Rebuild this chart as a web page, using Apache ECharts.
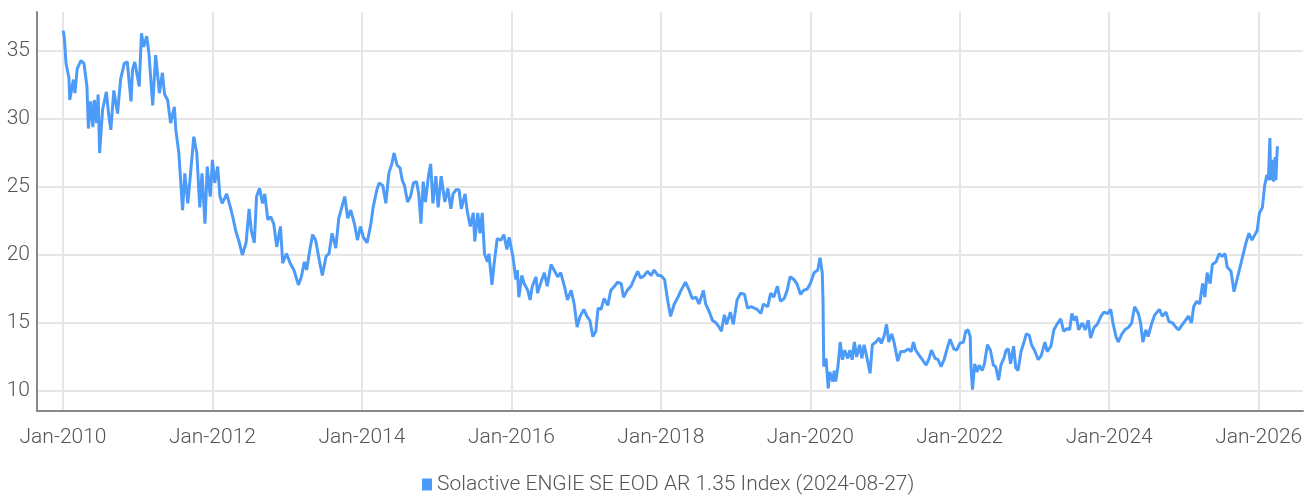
<!DOCTYPE html>
<html>
<head>
<meta charset="utf-8">
<script src="https://cdn.jsdelivr.net/npm/echarts@6/dist/echarts.min.js"></script>
<style>
html,body{margin:0;padding:0;background:#fff;}
#chart{width:1313px;height:495px;}
</style>
</head>
<body>
<div id="chart"></div>
<script>
// Dates as decimal years (e.g. 2010.50 = early July 2010)
const years = [
2010.00,2010.01,2010.02,2010.04,2010.08,2010.09,2010.14,2010.16,2010.19,2010.24,2010.28,2010.32,2010.34,2010.37,2010.40,2010.42,2010.45,2010.47,2010.49,2010.53,
2010.55,2010.58,2010.61,2010.64,2010.68,2010.73,2010.77,2010.82,2010.86,2010.91,2010.93,2010.96,2011.02,2011.05,2011.08,2011.12,2011.15,2011.20,2011.24,2011.29,
2011.33,2011.36,2011.40,2011.44,2011.49,2011.51,2011.55,2011.60,2011.63,2011.67,2011.71,2011.75,2011.79,2011.83,2011.86,2011.90,2011.93,2011.97,2012.00,2012.03,
2012.07,2012.10,2012.13,2012.19,2012.24,2012.28,2012.31,2012.36,2012.40,2012.45,2012.49,2012.52,2012.56,2012.59,2012.63,2012.67,2012.70,2012.74,2012.78,2012.82,
2012.86,2012.91,2012.94,2012.99,2013.04,2013.09,2013.15,2013.19,2013.23,2013.26,2013.31,2013.34,2013.38,2013.43,2013.47,2013.52,2013.56,2013.60,2013.65,2013.69,
2013.73,2013.77,2013.81,2013.85,2013.90,2013.94,2013.98,2014.02,2014.07,2014.12,2014.15,2014.20,2014.23,2014.28,2014.32,2014.36,2014.40,2014.43,2014.47,2014.51,
2014.54,2014.57,2014.61,2014.65,2014.69,2014.73,2014.76,2014.79,2014.82,2014.85,2014.89,2014.92,2014.95,2014.99,2015.02,2015.06,2015.11,2015.15,2015.19,2015.22,
2015.26,2015.30,2015.33,2015.38,2015.41,2015.45,2015.49,2015.51,2015.55,2015.58,2015.61,2015.64,2015.68,2015.70,2015.74,2015.77,2015.81,2015.86,2015.90,2015.94,
2015.97,2016.02,2016.06,2016.08,2016.10,2016.14,2016.17,2016.22,2016.25,2016.28,2016.33,2016.35,2016.39,2016.44,2016.48,2016.53,2016.57,2016.62,2016.66,2016.71,
2016.75,2016.80,2016.84,2016.88,2016.92,2016.97,2017.01,2017.05,2017.09,2017.13,2017.16,2017.20,2017.24,2017.29,2017.33,2017.38,2017.42,2017.47,2017.50,2017.55,
2017.60,2017.64,2017.69,2017.73,2017.78,2017.82,2017.87,2017.91,2017.96,2018.00,2018.05,2018.09,2018.13,2018.18,2018.22,2018.27,2018.33,2018.38,2018.42,2018.47,
2018.51,2018.57,2018.60,2018.65,2018.69,2018.74,2018.78,2018.81,2018.85,2018.88,2018.93,2018.97,2019.02,2019.07,2019.12,2019.16,2019.21,2019.25,2019.29,2019.34,
2019.37,2019.43,2019.47,2019.51,2019.56,2019.60,2019.65,2019.69,2019.73,2019.78,2019.82,2019.87,2019.91,2019.96,2020.00,2020.05,2020.10,2020.13,2020.16,2020.17,
2020.18,2020.21,2020.24,2020.26,2020.30,2020.32,2020.34,2020.37,2020.40,2020.43,2020.46,2020.50,2020.53,2020.56,2020.59,2020.62,2020.66,2020.69,2020.72,2020.76,
2020.80,2020.83,2020.88,2020.92,2020.95,2020.99,2021.02,2021.05,2021.09,2021.12,2021.17,2021.21,2021.26,2021.31,2021.35,2021.38,2021.41,2021.46,2021.50,2021.55,
2021.59,2021.62,2021.67,2021.71,2021.75,2021.79,2021.84,2021.87,2021.92,2021.96,2022.00,2022.05,2022.08,2022.11,2022.14,2022.15,2022.17,2022.20,2022.23,2022.26,
2022.30,2022.33,2022.37,2022.41,2022.45,2022.48,2022.52,2022.55,2022.59,2022.62,2022.65,2022.68,2022.72,2022.75,2022.78,2022.82,2022.86,2022.89,2022.93,2022.96,
2023.00,2023.05,2023.09,2023.14,2023.17,2023.22,2023.26,2023.30,2023.35,2023.39,2023.44,2023.47,2023.50,2023.53,2023.56,2023.59,2023.64,2023.68,2023.72,2023.75,
2023.80,2023.84,2023.89,2023.93,2023.98,2024.02,2024.05,2024.09,2024.12,2024.17,2024.21,2024.26,2024.30,2024.34,2024.39,2024.42,2024.45,2024.49,2024.52,2024.57,
2024.61,2024.67,2024.71,2024.76,2024.80,2024.85,2024.89,2024.93,2024.98,2025.02,2025.06,2025.10,2025.13,2025.17,2025.21,2025.25,2025.28,2025.31,2025.35,2025.38,
2025.43,2025.47,2025.51,2025.55,2025.58,2025.63,2025.67,2025.83,2025.87,2025.91,2025.95,2025.98,2026.01,2026.05,2026.08,2026.11,2026.13,2026.15,2026.16,2026.18,
2026.20,2026.22,2026.23,2026.25
];

const indexValues = [
36.5,36.3,35.8,34.1,33.0,31.4,32.9,31.9,33.7,34.3,34.1,32.4,29.3,31.3,29.4,31.4,29.7,31.8,27.5,30.7,
30.8,32.0,30.4,29.2,32.1,30.4,32.9,34.1,34.2,31.3,33.6,34.2,32.4,36.3,35.3,36.1,34.8,31.0,34.7,31.9,
33.4,31.8,31.4,29.7,30.9,29.2,27.5,23.3,26.0,23.8,26.2,28.7,27.5,23.5,26.0,22.3,26.5,24.3,27.0,25.3,
26.5,24.3,23.8,24.5,23.5,22.6,21.8,20.9,20.0,20.9,23.4,21.8,20.9,24.3,24.9,23.8,24.5,22.6,22.8,22.3,
20.6,22.1,19.4,20.1,19.4,18.9,17.8,18.4,19.5,18.9,20.6,21.5,21.1,19.6,18.5,19.9,20.1,21.6,20.5,22.7,
23.5,24.3,22.7,23.3,22.3,21.1,22.1,21.3,20.9,22.3,23.5,24.8,25.3,25.1,23.8,26.0,26.7,27.5,26.6,26.4,
25.5,25.1,23.9,24.3,25.3,25.4,24.5,22.3,25.4,23.9,25.8,26.7,23.8,25.8,23.5,25.8,23.9,24.9,23.4,24.5,
24.8,24.8,23.4,24.5,23.2,22.1,23.1,21.0,23.1,21.6,23.1,20.1,19.5,20.1,17.8,19.4,21.2,21.1,21.5,20.4,
21.3,19.9,18.2,18.9,16.9,18.5,17.9,17.4,16.7,17.7,18.4,17.2,17.9,18.7,17.7,19.3,18.9,18.4,18.7,17.7,
16.7,17.4,16.4,14.7,15.5,16.0,15.5,15.2,14.0,14.4,16.1,16.0,16.8,16.3,17.4,17.7,18.0,17.9,16.9,17.4,
17.7,18.2,18.8,18.3,18.5,18.8,18.5,18.9,18.5,18.5,18.2,16.7,15.5,16.4,16.8,17.4,18.0,17.4,16.8,16.9,
16.4,17.4,16.4,15.8,15.2,15.0,14.7,14.4,15.6,14.9,15.8,14.9,16.7,17.2,17.1,16.1,16.2,16.1,16.0,15.7,
16.4,16.2,17.2,16.9,17.7,16.6,16.8,17.4,18.4,18.2,17.9,17.1,17.4,17.5,17.9,18.7,18.9,19.8,18.7,16.7,
11.8,12.4,10.2,11.4,10.7,11.5,10.7,11.8,13.6,12.3,13.0,12.4,13.0,12.3,13.6,12.5,13.4,12.4,13.4,12.4,
11.3,13.4,13.6,13.9,13.5,14.1,14.9,13.6,14.2,13.6,12.2,12.9,12.9,13.1,12.9,13.6,13.0,12.6,12.3,11.9,
12.4,13.0,12.4,12.3,11.8,12.3,13.3,13.8,13.1,13.0,13.5,13.6,14.4,14.5,14.0,11.8,10.1,12.0,11.4,11.9,
11.5,12.0,13.4,13.0,11.9,11.8,10.8,11.9,12.4,13.0,13.1,12.0,13.3,11.7,11.5,12.9,13.6,14.2,14.1,13.4,
13.0,12.3,12.6,13.6,12.9,13.3,14.5,14.9,15.3,14.4,14.6,14.5,15.7,15.2,15.5,14.5,15.0,14.5,15.2,13.9,
14.7,14.9,15.5,15.8,15.7,16.0,15.0,14.0,13.6,14.2,14.5,14.7,15.0,16.2,15.7,15.0,13.6,14.5,14.0,15.0,
15.6,16.0,15.5,15.8,15.1,15.0,14.7,14.5,14.9,15.2,15.5,15.0,16.2,16.6,16.4,17.9,16.9,18.7,17.9,19.3,
19.5,20.1,19.9,20.1,19.1,18.8,17.3,20.9,21.6,21.1,21.5,21.8,23.1,23.5,25.1,25.9,25.5,28.6,25.5,27.0,
25.4,27.2,25.5,28.0
];

const seriesName = 'Solactive ENGIE SE EOD AR 1.35 Index (2024-08-27)';
const xTickYears = [2010, 2012, 2014, 2016, 2018, 2020, 2022, 2024, 2026];
const yTickValues = [10, 15, 20, 25, 30, 35];

const seriesData = years.map((y, i) => [y, indexValues[i]]);

const FONT = "Roboto, 'Liberation Sans Narrow', sans-serif";
const chart = echarts.init(document.getElementById('chart'), null, {renderer: 'canvas'});
chart.setOption({
  animation: false,
  backgroundColor: '#ffffff',
  grid: {left: 37, right: 10, top: 12, bottom: 84, containLabel: false},
  legend: {
    show: true,
    left: 417,
    top: 469,
    icon: 'rect',
    itemWidth: 10,
    itemHeight: 12,
    itemGap: 10,
    textStyle: {color: '#555', fontSize: 21, fontWeight: 300, fontFamily: FONT},
    data: [seriesName]
  },
  xAxis: {
    type: 'value',
    min: 2009.652,
    max: 2026.593,
    axisLine: {show: true, lineStyle: {color: '#888', width: 2}},
    axisTick: {show: false, customValues: xTickYears},
    splitLine: {show: true, lineStyle: {color: '#e6e6e6', width: 2}},
    axisLabel: {
      customValues: xTickYears,
      color: '#555',
      fontSize: 21,
      fontWeight: 300,
      fontFamily: FONT,
      margin: 16,
      hideOverlap: false,
      formatter: function (v) { return 'Jan-' + Math.round(v); }
    }
  },
  yAxis: {
    type: 'value',
    min: 8.53,
    max: 37.87,
    axisLine: {show: true, lineStyle: {color: '#888', width: 2}},
    axisTick: {show: false, customValues: yTickValues},
    splitLine: {show: true, lineStyle: {color: '#e6e6e6', width: 2}},
    axisLabel: {customValues: yTickValues, color: '#555', fontSize: 21, fontWeight: 300, fontFamily: FONT, margin: 7}
  },
  series: [{
    name: seriesName,
    type: 'line',
    data: seriesData,
    showSymbol: false,
    symbol: 'none',
    color: '#4d9bf8',
    lineStyle: {color: '#4d9bf8', width: 3},
    emphasis: {disabled: true}
  }]
});
</script>
</body>
</html>
